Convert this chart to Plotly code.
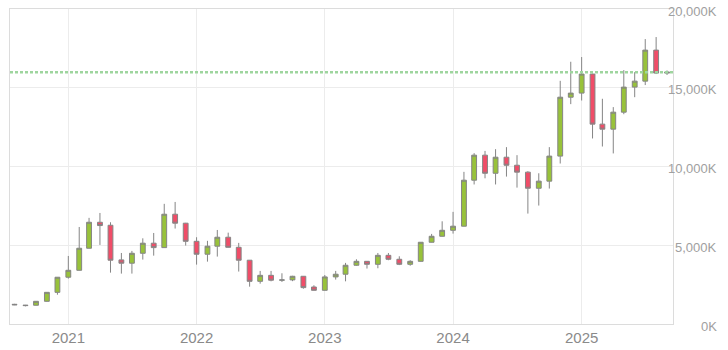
import plotly.graph_objects as go
import pandas as pd

months = pd.date_range("2020-08-01", "2025-09-01", freq="MS").strftime("%Y-%m-%d").tolist()

open_ = [1250, 1200, 1190, 1440, 2010, 2970, 3410, 4810, 6460, 6270, 4070, 3860,
         4490, 5130, 4850, 6970, 6400, 5250, 4430, 4940, 5510, 4870, 4050, 2710,
         3090, 2780, 2800, 3030, 2350, 2140, 2990, 3160, 3730, 3980, 3790, 4360,
         4110, 3790, 3980, 5190, 5570, 5950, 6210, 9130, 10720, 9570, 10590, 10080,
         9640, 8620, 9070, 10660, 14400, 14660, 15870, 12690, 12370, 13450, 15040, 15420,
         17390, 15930]
high = [1280, 1210, 1450, 2020, 2980, 4320, 6160, 6740, 7050, 6460, 4510, 4640,
        5440, 5780, 7630, 7750, 6420, 5510, 5280, 5970, 5800, 5150, 4060, 3370,
        3370, 3220, 3060, 3040, 2460, 3110, 3370, 3880, 4110, 4000, 4510, 4510,
        4300, 4050, 5200, 5720, 6520, 7120, 9660, 10850, 10990, 11100, 11230, 10720,
        9700, 9570, 11230, 15440, 16650, 16950, 15900, 14300, 13770, 16120, 15990, 18090,
        18220, 16100]
low = [1200, 1120, 1180, 1430, 1860, 2880, 3400, 4800, 5020, 3260, 3200, 3200,
       4090, 4340, 4850, 6060, 4980, 3770, 3960, 4280, 4860, 3330, 2370, 2560,
       2710, 2670, 2720, 2240, 2130, 2130, 2820, 2710, 3700, 3520, 3540, 4050,
       3740, 3700, 3970, 5180, 5560, 5740, 6200, 8860, 9250, 8860, 9360, 8660,
       7010, 7520, 8600, 10190, 13960, 14190, 11780, 11270, 10830, 13320, 14400, 15170,
       15870, 15810]
close = [1220, 1170, 1440, 2010, 2970, 3410, 4810, 6460, 6250, 4050, 3860, 4490,
         5130, 4850, 6970, 6400, 5250, 4430, 4940, 5510, 4870, 4050, 2710, 3090,
         2780, 2800, 3030, 2310, 2140, 2990, 3160, 3730, 3980, 3790, 4360, 4110,
         3790, 3980, 5190, 5570, 5950, 6210, 9130, 10720, 9570, 10590, 10080, 9640,
         8620, 9070, 10660, 14400, 14660, 15870, 12690, 12370, 13450, 15040, 15420, 17390,
         15930, 15990]

year_ticks = ["2021-01-01", "2022-01-01", "2023-01-01", "2024-01-01", "2025-01-01"]
year_labels = ["2021", "2022", "2023", "2024", "2025"]
y_ticks = [0, 5000, 10000, 15000, 20000]
y_labels = ["0K", "5,000K", "10,000K", "15,000K", "20,000K"]

GREEN = "#98c23a"
RED = "#f04d68"
EDGE = "#858585"

fig = go.Figure()
fig.add_trace(go.Candlestick(
    x=months, open=open_, high=high, low=low, close=close,
    increasing=dict(fillcolor=GREEN, line=dict(color=EDGE, width=1)),
    decreasing=dict(fillcolor=RED, line=dict(color=EDGE, width=1)),
    showlegend=False,
))

fig.add_shape(type="line", xref="paper", x0=0, x1=1, yref="y",
              y0=close[-1], y1=close[-1],
              line=dict(color="#9ed59e", width=2.5, dash="3px,2px"))

for v, t in zip(y_ticks, y_labels):
    fig.add_annotation(x=1, xref="paper", y=v, yref="y", text=t,
                       showarrow=False, xanchor="right", yanchor="middle",
                       xshift=46, yshift=-2,
                       font=dict(family="Liberation Sans, Arial", size=13, color="#a0a0a0"))

fig.update_layout(
    width=728, height=350,
    margin=dict(l=10, r=55, t=9, b=26),
    paper_bgcolor="white", plot_bgcolor="white",
    font=dict(family="Liberation Sans, Arial"),
    xaxis=dict(
        type="date", range=["2020-07-19", "2025-09-18"],
        rangeslider=dict(visible=False), automargin=False,
        tickvals=year_ticks, ticktext=year_labels,
        tickfont=dict(size=15, color="#8a8a8a"),
        showgrid=True, gridcolor="#ececec", gridwidth=1,
        showline=True, linecolor="#dcdcdc", linewidth=1, mirror=True,
        ticks="", zeroline=False,
    ),
    yaxis=dict(
        range=[0, 20000], tickvals=y_ticks, showticklabels=False, automargin=False,
        showgrid=True, gridcolor="#ececec", gridwidth=1,
        showline=True, linecolor="#dcdcdc", linewidth=1, mirror=True,
        ticks="", zeroline=False,
    ),
)

fig.write_html("out.html")
